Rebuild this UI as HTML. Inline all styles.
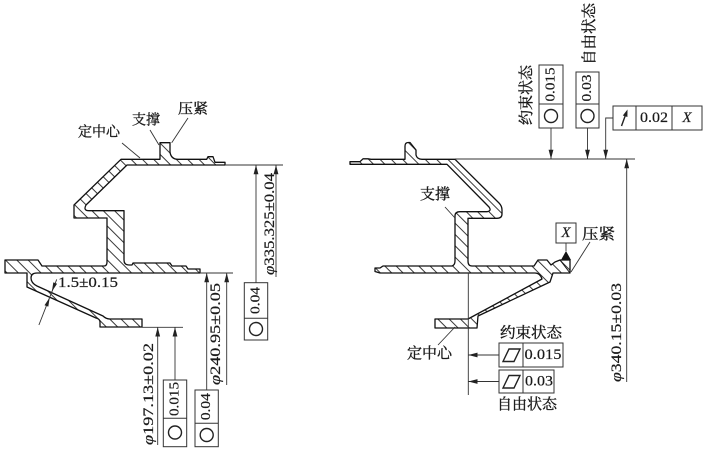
<!DOCTYPE html>
<html><head><meta charset="utf-8"><style>
html,body{margin:0;padding:0;background:#fff;}
svg{display:block;}
text{font-family:"Liberation Serif","Noto Serif CJK SC",serif;fill:#1a1a1a;stroke:#1a1a1a;stroke-width:0.2;}
.cn text{font-family:"Liberation Serif","Noto Serif CJK SC","Noto Sans CJK SC",serif;stroke-width:0.35;}
</style></head><body>
<svg width="704" height="449" viewBox="0 0 704 449" xmlns="http://www.w3.org/2000/svg">
<defs>
<pattern id="h" width="8" height="8" patternUnits="userSpaceOnUse" patternTransform="rotate(45)">
<line x1="0" y1="4" x2="8" y2="4" stroke="#222" stroke-width="0.9"/>
</pattern>
</defs>

<!-- LEFT PART -->
<path d="M121,159.3 L160,159.3 L160,142.7 L170,142.7 L170,152 Q171,159.3 178,159.3 L206.7,159.3 L208,156.7 L213,156.7 L215,162.3 L225,162.3 L225,165 L127,165 L86,205 Q83,210.7 89,210.7 L124,210.7 L124,260 Q124,265 129,265 L132,265 L133,263 L170,263 L172,266 L186,266 L188,269 L200,269 L200,273 L37,273 Q31,273 31,278 Q31,283 37,286 L103,316 Q106,319 110,319 L142,319 L142,327 L100,327 L100,322 Q100,319 96,318 L27,287 L27,273 L5,273 L5,260 L38,260 L42,266 L104,266 Q107,266 107,262 L107,218 L74,218 L74,205 Z" fill="url(#h)" stroke="#111" stroke-width="1.3" stroke-linejoin="round"/>

<!-- left reference lines -->
<g stroke="#333" stroke-width="0.9" fill="none">
<line x1="225" y1="165" x2="283" y2="165"/>
<line x1="200" y1="273" x2="233" y2="273"/>
<line x1="142" y1="327.3" x2="183" y2="327.3"/>
<line x1="157.7" y1="327.3" x2="157.7" y2="445"/>
<line x1="175" y1="327.3" x2="175" y2="380"/>
<line x1="206.7" y1="273" x2="206.7" y2="390"/>
<line x1="226.7" y1="273" x2="226.7" y2="385"/>
<line x1="256" y1="165" x2="256" y2="282.7"/>
<line x1="276" y1="165" x2="276" y2="277"/>
<line x1="56.7" y1="279.4" x2="38.9" y2="325"/>
<!-- label leaders -->
<line x1="122" y1="143" x2="140" y2="158"/>
<line x1="150" y1="130" x2="159" y2="145"/>
<line x1="188" y1="118" x2="171.7" y2="142.7"/>
</g>
<g fill="#222">
<polygon points="157.7,327.3 155.3,336.5 160.1,336.5"/>
<polygon points="175,327.3 172.6,336.5 177.4,336.5"/>
<polygon points="206.7,273 204.3,282.2 209.1,282.2"/>
<polygon points="226.7,273 224.3,282.2 229.1,282.2"/>
<polygon points="256,165 253.6,174.2 258.4,174.2"/>
<polygon points="276,165 273.6,174.2 278.4,174.2"/>
<polygon points="51.9,291.5 53.3,282.4 57.1,283.8"/>
<polygon points="49.7,297.5 48.3,306.6 44.5,305.2"/>
</g>

<!-- left frames -->
<g stroke="#333" stroke-width="1" fill="none">
<rect x="163.3" y="380" width="23.4" height="66.7"/>
<line x1="163.3" y1="418.3" x2="186.7" y2="418.3"/>
<rect x="195" y="390" width="23.3" height="56.7"/>
<line x1="195" y1="423.3" x2="218.3" y2="423.3"/>
<rect x="244.3" y="282.7" width="23.4" height="57.3"/>
<line x1="244.3" y1="318.3" x2="267.7" y2="318.3"/>
</g>
<g stroke="#222" stroke-width="1.4" fill="none">
<circle cx="175" cy="432.5" r="6.5"/>
<circle cx="206.7" cy="435" r="6.5"/>
<circle cx="256" cy="329" r="6.5"/>
</g>
<g font-size="14" text-anchor="middle" dominant-baseline="central">
<text transform="translate(175,399) rotate(-90)" textLength="34" lengthAdjust="spacingAndGlyphs">0.015</text>
<text transform="translate(206.7,406.7) rotate(-90)" textLength="27" lengthAdjust="spacingAndGlyphs">0.04</text>
<text transform="translate(256,300.5) rotate(-90)" textLength="27" lengthAdjust="spacingAndGlyphs">0.04</text>
</g>
<g font-size="15" text-anchor="middle" dominant-baseline="central">
<text transform="translate(149,394) rotate(-90)" textLength="102" lengthAdjust="spacingAndGlyphs"><tspan font-style="italic">φ</tspan>197.13±0.02</text>
<text transform="translate(216,334) rotate(-90)" textLength="102" lengthAdjust="spacingAndGlyphs"><tspan font-style="italic">φ</tspan>240.95±0.05</text>
<text transform="translate(270,224) rotate(-90)" textLength="102" lengthAdjust="spacingAndGlyphs"><tspan font-style="italic">φ</tspan>335.325±0.04</text>
<text x="88" y="283" textLength="60" lengthAdjust="spacingAndGlyphs">1.5±0.15</text>
</g>
<g class="cn" font-size="14" text-anchor="middle" dominant-baseline="central">
<text x="99" y="133" textLength="42" lengthAdjust="spacingAndGlyphs">定中心</text>
<text x="146" y="121" textLength="28" lengthAdjust="spacingAndGlyphs">支撑</text>
<text x="193" y="110" textLength="30" lengthAdjust="spacingAndGlyphs">压紧</text>
</g>

<!-- RIGHT PART -->
<path d="M350,161.7 L360,161.7 L363,158.8 L368,158.8 L371,159.3 L405,159.3 L405,146 Q405,142.5 408.5,142.5 L410,142.5 L416,150 L416,155 Q417,159.3 422,159.3 L455,159.3 L499,203 Q502,206 502,210 L502,214 Q502,218.3 497,218.3 L468,218.3 L468,261 Q468,266 472,266 L534,266 L538,260 L547,260 L551,265 L555,262 L560,260 L570,260 L570,273 L553,273 L550,282 L478,316 L477,328 L435,328 L435,319 L468,319 L542,279 Q540,273 535,273 L380,273 L375,271.5 L375,268 L380,268 L383,266 L452,266 Q455,265 455,261 L455,216 Q455,211.7 460,211.7 L487,211.7 Q492,211 489,207 L447,164.3 L350,164.3 Z" fill="url(#h)" stroke="#111" stroke-width="1.3" stroke-linejoin="round"/>
<line x1="560" y1="260" x2="570" y2="273" stroke="#111" stroke-width="1"/>
<polygon points="566,251 561,260 571,260" fill="#111"/>

<g stroke="#333" stroke-width="0.9" fill="none">
<line x1="455" y1="159" x2="635" y2="159"/>
<line x1="468.3" y1="273" x2="468.3" y2="395"/>
<line x1="626.7" y1="159" x2="626.7" y2="382"/>
<line x1="551" y1="128" x2="551" y2="159"/>
<line x1="587.5" y1="128" x2="587.5" y2="159"/>
<polyline points="613,118 605.7,118 605.7,159"/>
<line x1="499" y1="355" x2="468.3" y2="355"/>
<line x1="499" y1="381.5" x2="468.3" y2="381.5"/>
<line x1="566" y1="243" x2="566" y2="251"/>
<line x1="590" y1="242" x2="571" y2="272"/>
<line x1="445" y1="207" x2="455" y2="218"/>
<line x1="438" y1="345" x2="455" y2="327"/>
</g>
<g fill="#222">
<polygon points="551,159 548.6,149.8 553.4,149.8"/>
<polygon points="587.5,159 585.1,149.8 589.9,149.8"/>
<polygon points="605.7,159 603.3,149.8 608.1,149.8"/>
<polygon points="626.7,159 624.3,168.2 629.1,168.2"/>
<polygon points="468.3,355 477.5,352.6 477.5,357.4"/>
<polygon points="468.3,381.5 477.5,379.1 477.5,383.9"/>
</g>

<!-- right frames -->
<g stroke="#333" stroke-width="1" fill="none">
<rect x="539" y="65" width="24" height="63"/>
<line x1="539" y1="104" x2="563" y2="104"/>
<rect x="576" y="72" width="23" height="56"/>
<line x1="576" y1="104" x2="599" y2="104"/>
<rect x="613" y="106" width="89" height="24"/>
<line x1="636" y1="106" x2="636" y2="130"/>
<line x1="672" y1="106" x2="672" y2="130"/>
<rect x="499" y="343" width="64" height="24"/>
<line x1="523" y1="343" x2="523" y2="367"/>
<rect x="499" y="370" width="55" height="23"/>
<line x1="523" y1="370" x2="523" y2="393"/>
<rect x="556" y="223" width="20" height="20"/>
</g>
<g stroke="#222" stroke-width="1.4" fill="none">
<circle cx="551" cy="116" r="6.5"/>
<circle cx="587.5" cy="116" r="6.5"/>
<polygon points="503,361.5 509,349 520,349 514,361.5"/>
<polygon points="503,388 509,375.5 520,375.5 514,388"/>
<line x1="621.5" y1="126" x2="625.5" y2="115"/>
</g>
<polygon points="627.5,109.5 622.8,115.5 627.4,117" fill="#222"/>

<g font-size="14" text-anchor="middle" dominant-baseline="central">
<text transform="translate(551,84.5) rotate(-90)" textLength="34" lengthAdjust="spacingAndGlyphs">0.015</text>
<text transform="translate(587.5,88) rotate(-90)" textLength="27" lengthAdjust="spacingAndGlyphs">0.03</text>
<text x="654" y="118" font-size="15" textLength="28" lengthAdjust="spacingAndGlyphs">0.02</text>
<text x="687" y="118" font-size="15" font-style="italic">X</text>
<text x="566" y="233" font-size="15" font-style="italic">X</text>
<text x="543" y="355" font-size="15" textLength="37" lengthAdjust="spacingAndGlyphs">0.015</text>
<text x="539" y="381.5" font-size="15" textLength="28" lengthAdjust="spacingAndGlyphs">0.03</text>
<text transform="translate(617,332.5) rotate(-90)" font-size="15" textLength="99" lengthAdjust="spacingAndGlyphs"><tspan font-style="italic">φ</tspan>340.15±0.03</text>
</g>
<g class="cn" font-size="15" text-anchor="middle" dominant-baseline="central">
<text transform="translate(527,95) rotate(-90)" textLength="60" lengthAdjust="spacingAndGlyphs">约束状态</text>
<text transform="translate(590,34) rotate(-90)" textLength="62" lengthAdjust="spacingAndGlyphs">自由状态</text>
<text x="435" y="195" textLength="30" lengthAdjust="spacingAndGlyphs">支撑</text>
<text x="598.5" y="235" textLength="33" lengthAdjust="spacingAndGlyphs">压紧</text>
<text x="429.5" y="354" textLength="45" lengthAdjust="spacingAndGlyphs">定中心</text>
<text x="531" y="333.5" textLength="62" lengthAdjust="spacingAndGlyphs">约束状态</text>
<text x="527" y="405" textLength="60" lengthAdjust="spacingAndGlyphs">自由状态</text>
</g>
</svg>
</body></html>
